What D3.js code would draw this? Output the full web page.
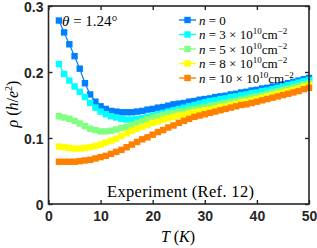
<!DOCTYPE html>
<html><head><meta charset="utf-8">
<script src="https://cdn.jsdelivr.net/npm/d3@7"></script>
<style>html,body{margin:0;padding:0;background:#fff}svg{display:block}</style>
</head><body><svg id="c" width="317" height="248"></svg>
<script>
const temps = d3.range(2, 51, 1);
const rhoN0  = [0.278,0.260,0.242,0.224,0.205,0.183,0.166,0.155,0.148,0.144,0.141,0.140,0.139,0.139,0.139,0.140,0.141,0.143,0.144,0.146,0.147,0.149,0.151,0.152,0.153,0.155,0.156,0.158,0.159,0.160,0.162,0.163,0.164,0.166,0.167,0.169,0.170,0.172,0.173,0.175,0.176,0.178,0.179,0.181,0.183,0.185,0.187,0.189,0.191];
const rhoN3  = [0.212,0.197,0.187,0.178,0.170,0.162,0.153,0.146,0.140,0.136,0.133,0.131,0.129,0.128,0.128,0.129,0.130,0.132,0.134,0.136,0.138,0.140,0.142,0.144,0.146,0.148,0.150,0.152,0.154,0.156,0.157,0.159,0.160,0.162,0.163,0.165,0.166,0.168,0.169,0.171,0.172,0.174,0.176,0.178,0.180,0.182,0.184,0.186,0.188];
const rhoN5  = [0.133,0.131,0.129,0.126,0.122,0.118,0.114,0.112,0.110,0.110,0.111,0.113,0.115,0.117,0.120,0.123,0.126,0.129,0.131,0.133,0.135,0.137,0.138,0.140,0.141,0.143,0.144,0.146,0.147,0.149,0.150,0.152,0.153,0.155,0.156,0.158,0.160,0.162,0.163,0.165,0.167,0.169,0.171,0.173,0.175,0.177,0.179,0.181,0.183];
const rhoN8  = [0.087,0.086,0.085,0.084,0.084,0.085,0.086,0.088,0.090,0.093,0.096,0.099,0.103,0.107,0.111,0.114,0.117,0.120,0.123,0.125,0.128,0.130,0.132,0.134,0.135,0.137,0.139,0.140,0.142,0.143,0.145,0.147,0.148,0.150,0.152,0.154,0.155,0.157,0.159,0.161,0.163,0.165,0.167,0.169,0.171,0.173,0.175,0.178,0.180];
const rhoN10 = [0.064,0.064,0.064,0.064,0.065,0.066,0.067,0.069,0.071,0.073,0.076,0.079,0.082,0.086,0.090,0.094,0.098,0.101,0.105,0.109,0.112,0.116,0.119,0.123,0.126,0.129,0.132,0.134,0.136,0.138,0.140,0.142,0.144,0.146,0.148,0.150,0.151,0.153,0.155,0.157,0.159,0.161,0.163,0.165,0.167,0.169,0.171,0.174,0.176];
const seriesColors = ["#0080ff","#00ffff","#80ff80","#ffff00","#ff8000"];
const seriesNames = ["0","3","5","8","10"];
const xTicks = [0,10,20,30,40,50];
const yTicks = [0,0.1,0.2,0.3];

const allSeries = [rhoN0,rhoN3,rhoN5,rhoN8,rhoN10];
const svg = d3.select("#c");
const L=48.5, R=309, T=6, B=204;
const x = d3.scaleLinear().domain([0,50]).range([L,R]);
const y = d3.scaleLinear().domain([0,0.3]).range([B,T]);

// curves
const line = d3.line().x((d,i)=>x(temps[i])).y(d=>y(d));
const ms = 6.4;
allSeries.forEach((s,k)=>{
  const g = svg.append("g");
  g.append("path").attr("d", line(s)).attr("fill","none").attr("stroke",seriesColors[k]).attr("stroke-width",1.2);
  g.selectAll("rect").data(s).join("rect")
    .attr("x",(d,i)=>x(temps[i])-ms/2).attr("y",d=>y(d)-ms/2)
    .attr("width",ms).attr("height",ms).attr("fill",seriesColors[k]);
});

// axes frame
const ax = "#262626";
svg.append("rect").attr("x",L).attr("y",T).attr("width",R-L).attr("height",B-T)
  .attr("fill","none").attr("stroke",ax).attr("stroke-width",1.6);
const tk = 4;
const gx = svg.append("g").attr("transform",`translate(0,${B})`)
  .call(d3.axisBottom(x).tickValues(xTicks).tickSize(-tk).tickPadding(7).tickFormat(d3.format("d")));
const gxt = svg.append("g").attr("transform",`translate(0,${T})`)
  .call(d3.axisTop(x).tickValues(xTicks).tickSize(-tk).tickFormat(""));
const gy = svg.append("g").attr("transform",`translate(${L},0)`)
  .call(d3.axisLeft(y).tickValues(yTicks).tickSize(-tk).tickPadding(5).tickFormat(d=>d===0?"0":d3.format(".1f")(d)));
const gyr = svg.append("g").attr("transform",`translate(${R},0)`)
  .call(d3.axisRight(y).tickValues(yTicks).tickSize(-tk).tickFormat(""));
[gx,gxt,gy,gyr].forEach(g=>{
  g.select(".domain").remove();
  g.selectAll("line").attr("stroke",ax).attr("stroke-width",1.4);
  g.selectAll("text").attr("fill",ax).attr("font-family","Liberation Sans, Arial, sans-serif")
    .attr("font-weight","bold").attr("font-size",14);
});
gx.selectAll("text").attr("dy","0.71em");
gy.selectAll("text").attr("dy","0.36em");

// labels
const serif = "Liberation Serif, Times New Roman, serif";
const xl = svg.append("text").attr("x",178).attr("y",242).attr("text-anchor","middle")
  .attr("font-family",serif).attr("font-size",16).attr("fill","#000");
xl.append("tspan").attr("font-style","italic").text("T");
xl.append("tspan").text(" (");
xl.append("tspan").attr("font-style","italic").text("K");
xl.append("tspan").text(")");

const yl = svg.append("text").attr("transform","translate(18,104) rotate(-90)").attr("text-anchor","middle")
  .attr("font-family",serif).attr("font-size",16).attr("fill","#000");
yl.append("tspan").attr("font-style","italic").text("ρ");
yl.append("tspan").text(" (");
yl.append("tspan").attr("font-style","italic").text("h");
yl.append("tspan").text("/");
yl.append("tspan").attr("font-style","italic").text("e");
yl.append("tspan").attr("font-size",10).attr("dy",-6).text("2");
yl.append("tspan").attr("dy",6).text(")");

const th = svg.append("text").attr("x",62).attr("y",26).attr("font-family",serif).attr("font-size",15).attr("fill","#000");
th.append("tspan").attr("font-style","italic").text("θ");
th.append("tspan").text(" = 1.24°");

svg.append("text").attr("x",107).attr("y",197).attr("font-family",serif).attr("font-size",16.5).attr("fill","#000")
  .attr("textLength",147).attr("lengthAdjust","spacing")
  .text("Experiment (Ref. 12)");

// legend
const legY = [20,34.5,49,63.5,78];
seriesNames.forEach((nm,k)=>{
  const yy = legY[k];
  svg.append("line").attr("x1",179).attr("x2",196).attr("y1",yy).attr("y2",yy)
    .attr("stroke",seriesColors[k]).attr("stroke-width",1.4);
  svg.append("rect").attr("x",187.5-ms/2).attr("y",yy-ms/2).attr("width",ms).attr("height",ms).attr("fill",seriesColors[k]);
  const t = svg.append("text").attr("x",199).attr("y",yy+4.5).attr("font-family",serif).attr("font-size",13).attr("fill","#000");
  t.append("tspan").attr("font-style","italic").text("n");
  if (nm==="0") { t.append("tspan").text(" = 0"); }
  else {
    t.append("tspan").text(` = ${nm} × 10`);
    t.append("tspan").attr("font-size",9).attr("dy",-5).text("10");
    t.append("tspan").attr("dy",5).text("cm");
    t.append("tspan").attr("font-size",9).attr("dy",-5).text("−2");
  }
});
</script></body></html>
